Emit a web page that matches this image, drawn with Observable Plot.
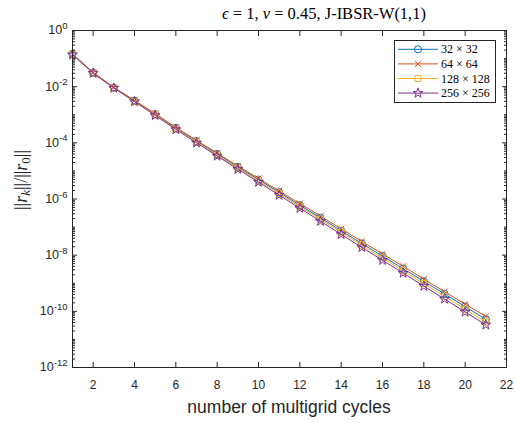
<!DOCTYPE html>
<html>
<head>
<meta charset="utf-8">
<script src="https://cdn.jsdelivr.net/npm/d3@7"></script>
<script src="https://cdn.jsdelivr.net/npm/@observablehq/plot@0.6"></script>
<style>
  html, body { margin: 0; padding: 0; background: #fff; }
  #chart { position: relative; width: 515px; height: 423px; }
</style>
</head>
<body>
<div id="chart"></div>
<script>
const cycles = [1,2,3,4,5,6,7,8,9,10,11,12,13,14,15,16,17,18,19,20,21];
const res32 = [1.48e-1,3.1e-2,9.3e-3,3.15e-3,1.05e-3,3.4e-4,1.15e-4,4.0e-5,1.38e-5,4.9e-6,1.74e-6,6.0e-7,2.14e-7,7.4e-8,2.6e-8,9.3e-9,3.3e-9,1.17e-9,4.2e-10,1.48e-10,5.2e-11];
const res64 = [1.45e-1,3.2e-2,9.5e-3,3.25e-3,1.1e-3,3.55e-4,1.23e-4,4.3e-5,1.5e-5,5.4e-6,1.95e-6,6.9e-7,2.45e-7,8.7e-8,3.1e-8,1.1e-8,4.0e-9,1.4e-9,5.0e-10,1.8e-10,6.6e-11];
const res128 = [1.41e-1,3.0e-2,9.1e-3,3.0e-3,1.0e-3,3.15e-4,1.07e-4,3.6e-5,1.26e-5,4.4e-6,1.55e-6,5.4e-7,1.86e-7,6.5e-8,2.25e-8,7.9e-9,2.75e-9,9.8e-10,3.4e-10,1.2e-10,4.2e-11];
const res256 = [1.38e-1,3.02e-2,8.9e-3,2.95e-3,9.5e-4,3.0e-4,1.0e-4,3.4e-5,1.15e-5,4.0e-6,1.38e-6,4.7e-7,1.62e-7,5.5e-8,1.9e-8,6.6e-9,2.3e-9,7.9e-10,2.75e-10,9.5e-11,3.3e-11];

const seriesNames = ["32 × 32", "64 × 64", "128 × 128", "256 × 256"];
const seriesValues = [res32, res64, res128, res256];
const seriesColors = ["#0072BD", "#D95319", "#EDB120", "#7E2F8E"];
const seriesSymbols = ["circle", "times", "square", "star"];
const seriesR = [3.6, 3.0, 3.4, 3.1];

const xTicks = [2,4,6,8,10,12,14,16,18,20,22];
const yMajorExp = [-12,-10,-8,-6,-4,-2,0];
const yMajor = yMajorExp.map(e => Math.pow(10, e));
const yMinor = [];
for (let e = -12; e < 0; e++) for (let m = 1; m <= 9; m++) {
  const v = m * Math.pow(10, e);
  if (!(m === 1 && e % 2 === 0)) yMinor.push(v);
}

const series = seriesNames.map((name, i) =>
  cycles.map((c, j) => ({cycle: c, res: seriesValues[i][j], name}))
);

const marks = [];
series.forEach((d, i) => {
  marks.push(Plot.line(d, {x: "cycle", y: "res", stroke: seriesColors[i], strokeWidth: 1}));
  marks.push(Plot.dot(d, {x: "cycle", y: "res", stroke: seriesColors[i], symbol: seriesSymbols[i], r: seriesR[i], strokeWidth: 1, fill: "none"}));
});

const axisFont = "Liberation Sans, Arial, sans-serif";
const svg = Plot.plot({
  width: 515,
  height: 423,
  marginLeft: 72,
  marginRight: 9,
  marginTop: 30,
  marginBottom: 56,
  style: {fontFamily: axisFont, fontSize: "12px", color: "#262626", background: "white"},
  x: {domain: [1, 22]},
  y: {type: "log", domain: [1e-12, 1]},
  marks: [
    ...marks,
    Plot.frame({stroke: "#262626", strokeWidth: 1}),
    Plot.axisX({anchor: "bottom", ticks: xTicks, tickSize: -5, tickFormat: () => "", label: null, stroke: "#262626"}),
    Plot.axisX({anchor: "top", ticks: xTicks, tickSize: -5, tickFormat: () => "", label: null, stroke: "#262626"}),
    Plot.axisX({anchor: "bottom", ticks: xTicks, tickSize: 0, tickPadding: 13, tickFormat: d => String(d), label: null, fill: "#262626"}),
    Plot.axisY({anchor: "left", ticks: yMajor, tickSize: -5, tickFormat: () => "", label: null, stroke: "#262626"}),
    Plot.axisY({anchor: "right", ticks: yMajor, tickSize: -5, tickFormat: () => "", label: null, stroke: "#262626"}),
    Plot.axisY({anchor: "left", ticks: yMinor, tickSize: -3, tickFormat: () => "", label: null, stroke: "#262626"}),
    Plot.axisY({anchor: "right", ticks: yMinor, tickSize: -3, tickFormat: () => "", label: null, stroke: "#262626"}),
    Plot.axisY({anchor: "left", ticks: yMajor, tickSize: 0, tickPadding: 5, tickFormat: d => String(Math.round(Math.log10(d))), label: null, fill: "#262626"})
  ]
});

const root = d3.select(svg);
root.selectAll("g[aria-label='y-axis tick label'] text").each(function() {
  const t = d3.select(this);
  const e = t.text();
  if (e === "") return;
  t.text("");
  t.append("tspan").attr("font-size", "12.5px").text("10");
  t.append("tspan").attr("dy", "-0.55em").attr("font-size", "9.5px").text(e);
});

// title
const title = root.append("text")
  .attr("x", 324).attr("y", 19)
  .attr("text-anchor", "middle")
  .attr("font-family", "Liberation Serif, DejaVu Serif, serif")
  .attr("font-size", "16.5px")
  .attr("fill", "#000");
title.append("tspan").attr("font-style", "italic").text("ϵ");
title.append("tspan").text(" = 1, ");
title.append("tspan").attr("font-style", "italic").text("ν");
title.append("tspan").text(" = 0.45, J-IBSR-W(1,1)");

// y label
const yl = root.append("text")
  .attr("transform", "translate(27,180) rotate(-90)")
  .attr("text-anchor", "middle")
  .attr("font-family", "Liberation Serif, DejaVu Serif, serif")
  .attr("font-size", "18px")
  .attr("fill", "#262626");
yl.append("tspan").text("||");
yl.append("tspan").attr("font-style", "italic").text("r");
yl.append("tspan").attr("font-style", "italic").attr("font-size", "13px").attr("dy", "3").text("k");
yl.append("tspan").attr("dy", "-3").text("||/||");
yl.append("tspan").attr("font-style", "italic").text("r");
yl.append("tspan").attr("font-size", "13px").attr("dy", "3").text("0");
yl.append("tspan").attr("dy", "-3").text("||");

// x label
root.append("text")
  .attr("x", 289).attr("y", 413)
  .attr("text-anchor", "middle")
  .attr("font-family", axisFont)
  .attr("font-size", "17.5px")
  .attr("fill", "#262626")
  .text("number of multigrid cycles");

// legend
const lg = root.append("g").attr("font-family", "Liberation Serif, DejaVu Serif, serif").attr("font-size", "12px").attr("text-anchor", "start");
lg.append("rect").attr("x", 394.5).attr("y", 40.5).attr("width", 101).attr("height", 62)
  .attr("fill", "white").attr("stroke", "#262626").attr("stroke-width", 1);
const symMap = {circle: d3.symbolCircle, times: d3.symbolTimes, square: d3.symbolSquare, star: d3.symbolStar};
seriesNames.forEach((name, i) => {
  const cy = 49.3 + i * 14.6;
  lg.append("line").attr("x1", 398).attr("x2", 438).attr("y1", cy).attr("y2", cy)
    .attr("stroke", seriesColors[i]).attr("stroke-width", 1);
  const rr = seriesR[i];
  lg.append("path").attr("transform", `translate(418,${cy})`)
    .attr("d", d3.symbol(symMap[seriesSymbols[i]], Math.PI * rr * rr)())
    .attr("fill", "none").attr("stroke", seriesColors[i]).attr("stroke-width", 1);
  lg.append("text").attr("x", 441).attr("y", cy + 4).attr("fill", "#000").attr("text-anchor", "start").text(name);
});

document.getElementById("chart").appendChild(svg);
</script>
</body>
</html>
